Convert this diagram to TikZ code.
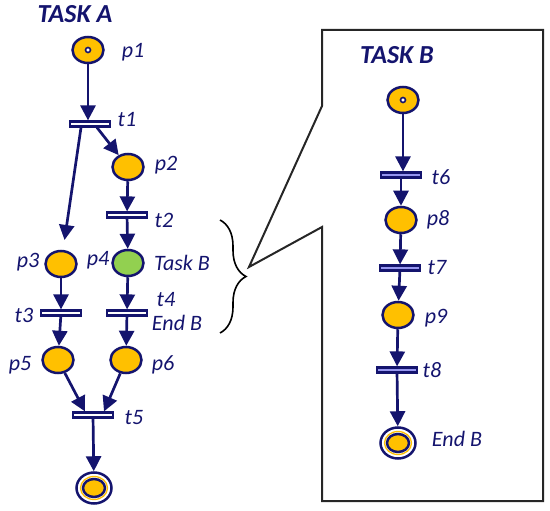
\documentclass[tikz,border=0pt]{standalone}
\usepackage{fontspec}
\setmainfont{Carlito}
\usetikzlibrary{positioning,arrows.meta,shapes.geometric,decorations.pathreplacing}
\definecolor{navy}{RGB}{20,20,110}
\definecolor{gold}{RGB}{255,192,0}
\definecolor{leaf}{RGB}{146,208,80}
\definecolor{lilac}{RGB}{150,150,240}

\begin{document}
\begin{tikzpicture}[x=1pt, y=-1pt,
    place/.style={ellipse, draw=navy, line width=2.5pt, fill=gold, minimum width=31pt, minimum height=26pt, inner sep=0pt},
    endplace/.style={ellipse, draw=navy, line width=2.5pt, fill=white, minimum width=35pt, minimum height=31pt, inner sep=0pt},
    goldring/.style={ellipse, draw=gold, line width=1.3pt, minimum width=27pt, minimum height=23pt, inner sep=0pt},
    innerplace/.style={ellipse, draw=navy, line width=2.5pt, fill=gold, minimum width=22pt, minimum height=18pt, inner sep=0pt},
    token/.style={circle, draw=navy, line width=1.6pt, fill=white, minimum size=5pt, inner sep=0pt},
    trans/.style={rectangle, draw=navy, line width=2.2pt, fill=white, minimum width=40pt, minimum height=5pt, inner sep=0pt},
    transB/.style={trans, fill=lilac},
    lbl/.style={text=navy, font=\itshape\fontsize{22}{22}\selectfont, inner sep=0pt},
    title/.style={text=navy, font=\bfseries\itshape\fontsize{26}{26}\selectfont, inner sep=0pt},
    arr/.style={draw=navy, line width=2.7pt, -{Triangle[length=15pt,width=15pt]}}]
    \useasboundingbox (0,0) rectangle (550,511);

    % Task B callout
    \draw[black!85, line width=2pt] (322,30) -- (543,30) -- (543,501) -- (322,501) -- (322,227)
                                    -- (249,267) -- (322,106) -- cycle;
    \draw[black, line width=1.6pt, decorate, decoration={brace, amplitude=26pt, aspect=0.5}] (220,220) -- (220,333);

    % 1. Task A
    \node[title] (tA) at (75,14) {TASK A};
    \node[place] (p1) at (88,50) {};
    \node[token] at (p1) {};
    \node[trans] (t1) at (90,124) {};
    \node[place] (p2) at (128,167) {};
    \node[trans] (t2) at (127,215) {};
    \node[place] (p3) at (61,264) {};
    \node[place, fill=leaf] (p4) at (128,263) {};
    \node[trans] (t3) at (61,313) {};
    \node[trans] (t4) at (127,313) {};
    \node[place] (p5) at (58,360) {};
    \node[place] (p6) at (126,360) {};
    \node[trans] (t5) at (93,415) {};
    \node[endplace] (pend) at (94,488) {};
    \node[goldring] at (pend) {};
    \node[innerplace] at (pend) {};

    \node[lbl] (lp1) at (133,52) {p1};
    \node[lbl] (lt1) at (127,120) {t1};
    \node[lbl] (lp2) at (166,165) {p2};
    \node[lbl] (lt2) at (164,220) {t2};
    \node[lbl] (lp3) at (28,262) {p3};
    \node[lbl] (lp4) at (98,260) {p4};
    \node[lbl] (lTB) at (182,263) {Task B};
    \node[lbl] (lt3) at (24,315) {t3};
    \node[lbl] (lt4) at (166,300) {t4};
    \node[lbl] (lEB) at (177,323) {End B};
    \node[lbl] (lp5) at (20,365) {p5};
    \node[lbl] (lp6) at (163,365) {p6};
    \node[lbl] (lt5) at (134,418) {t5};

    \draw[arr] (p1) -- (p1 |- t1.north);
    \draw[arr, shorten >=10pt] ([xshift=-9pt]t1.south) -- (p3);
    \draw[arr] ([xshift=7pt]t1.south) -- (p2);
    \draw[arr] (p2) -- (t2);
    \draw[arr] (t2) -- (p4);
    \draw[arr] (p3) -- (t3);
    \draw[arr] (p4) -- (t4);
    \draw[arr] (t3) -- (p5);
    \draw[arr] (t4) -- (p6);
    \draw[arr] (p5) -- ([xshift=-8pt]t5.north);
    \draw[arr] (p6) -- ([xshift=11pt]t5.north);
    \draw[arr] (t5) -- (pend);

    % 2. Task B
    \node[title] (tB) at (397,55) {TASK B};
    \node[place] (pB) at (403,100) {};
    \node[token] at (pB) {};
    \node[transB] (t6) at (401,175) {};
    \node[place] (p8) at (401,220) {};
    \node[transB] (t7) at (400,268) {};
    \node[place] (p9) at (398,315) {};
    \node[transB] (t8) at (397,370) {};
    \node[endplace] (pendB) at (398,443) {};
    \node[goldring] at (pendB) {};
    \node[innerplace] at (pendB) {};

    \node[lbl] (lt6) at (441,177) {t6};
    \node[lbl] (lp8) at (438,220) {p8};
    \node[lbl] (lt7) at (437,268) {t7};
    \node[lbl] (lp9) at (436,318) {p9};
    \node[lbl] (lt8) at (432,370) {t8};
    \node[lbl] (lEB2) at (457,439) {End B};

    \draw[arr] (pB) -- (pB |- t6.north);
    \draw[arr] (t6) -- (p8);
    \draw[arr] (p8) -- (t7);
    \draw[arr] (t7) -- (p9);
    \draw[arr] (p9) -- (t8);
    \draw[arr] (t8) -- (pendB);
\end{tikzpicture}
\end{document}
